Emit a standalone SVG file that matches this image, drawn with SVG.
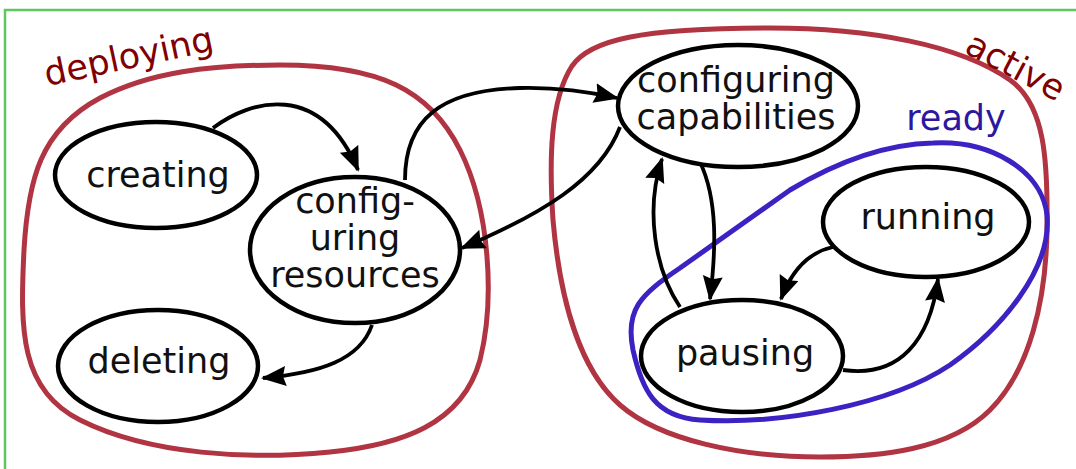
<svg xmlns="http://www.w3.org/2000/svg" width="1076" height="469" viewBox="0 0 1076 469">
<style>
.node ellipse{fill:#fff;stroke:#000;stroke-width:4.5}
.node text{font-family:"DejaVu Sans",sans-serif;font-size:35px;fill:#111;text-anchor:middle}
.edge{fill:none;stroke:#000;stroke-width:3.8;marker-end:url(#arr)}
.grp{fill:none;stroke-width:5}
.red{stroke:#b03441}
.blue{stroke:#3c22c2}
.lbl{font-family:"DejaVu Sans",sans-serif;font-size:35px}
</style>
<defs>
<marker id="arr" markerUnits="userSpaceOnUse" markerWidth="30" markerHeight="24" refX="23" refY="10" orient="auto" viewBox="0 0 30 24">
<path d="M0,0 L25,10 L0,20 L3,10 Z" fill="#000"/>
</marker>
</defs>
<rect x="5" y="10" width="1100" height="500" fill="#fff" stroke="#5ec85e" stroke-width="2.5"/>
<g id="deploying">
<path class="grp red" d="M280,65 C380,65 430,90 460,150 C490,210 495,300 480,360 C462,425 400,445 330,452 C250,460 150,455 80,420 C20,390 20,330 24,250 C28,180 40,130 100,98 C150,72 210,65 280,65 Z"/>
<text class="lbl" x="47" y="86" fill="#800000" font-size="36" transform="rotate(-12 47 86)">deploying</text>
</g>
<g id="active">
<path class="grp red" d="M770,28 C870,28 960,45 1010,80 C1045,105 1048,160 1047,230 C1046,300 1030,370 990,410 C950,450 880,457 820,457 C740,457 660,440 620,405 C580,370 560,300 553,220 C549,160 550,100 572,66 C590,40 640,28 770,28 Z"/>
<text class="lbl" x="963" y="52" fill="#800000" font-size="34" transform="rotate(28 963 52)">active</text>
</g>
<g id="ready">
<path class="grp blue" d="M933,143 C990,140 1042,170 1047,215 C1052,270 1000,330 950,365 C890,405 780,425 700,420 C655,417 642,390 633,350 C625,310 640,295 680,268 L790,190 C840,160 890,144 933,143 Z"/>
<text class="lbl" x="956" y="130" fill="#2b17a0" text-anchor="middle">ready</text>
</g>
<g id="connectors">
<path class="edge" d="M213,128 C250,100 320,80 358,170"/>
<path class="edge" d="M405,180 C405,120 440,90 520,88 C560,87 590,92 617,98"/>
<path class="edge" d="M620,127 C600,180 540,215 462,248"/>
<path class="edge" d="M700,162 C718,200 716,250 710,299"/>
<path class="edge" d="M680,307 C655,270 645,210 662,159"/>
<path class="edge" d="M833,247 C805,253 790,275 781,299"/>
<path class="edge" d="M843,370 C900,378 930,340 938,279"/>
<path class="edge" d="M372,325 C360,360 320,373 263,378"/>
</g>
<g id="creating" class="node">
<ellipse cx="156" cy="175" rx="101" ry="53"/>
<text x="158" y="187">creating</text>
</g>
<g id="configuring-resources" class="node">
<ellipse cx="355" cy="250" rx="105" ry="73"/>
<text x="355" y="213">config-</text>
<text x="355" y="250">uring</text>
<text x="355" y="287">resources</text>
</g>
<g id="deleting" class="node">
<ellipse cx="158" cy="366" rx="100" ry="56"/>
<text x="159" y="373">deleting</text>
</g>
<g id="configuring-capabilities" class="node">
<ellipse cx="738" cy="106" rx="120" ry="61"/>
<text x="736" y="92">configuring</text>
<text x="736" y="129">capabilities</text>
</g>
<g id="running" class="node">
<ellipse cx="926" cy="222" rx="103" ry="55"/>
<text x="928" y="229">running</text>
</g>
<g id="pausing" class="node">
<ellipse cx="742" cy="356" rx="101" ry="56"/>
<text x="745" y="365">pausing</text>
</g>
</svg>
